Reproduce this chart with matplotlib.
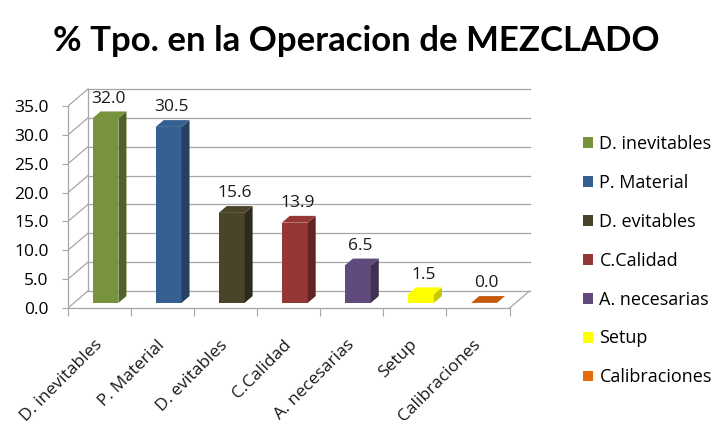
import matplotlib
matplotlib.use('Agg')
import matplotlib.pyplot as plt
from matplotlib.patches import Polygon, Patch

plt.rcParams['font.family'] = ['Open Sans', 'DejaVu Sans']

categories = ['D. inevitables', 'P. Material', 'D. evitables', 'C.Calidad',
              'A. necesarias', 'Setup', 'Calibraciones']
values = [32.0, 30.5, 15.6, 13.9, 6.5, 1.5, 0.0]
front_colors = ['#77933C', '#376092', '#4A452A', '#953735', '#604A7B', '#FFFF00', '#C65A0A']
side_colors = ['#4F6228', '#244062', '#2E2B1A', '#632523', '#403152', '#C8C800', '#8E3F06']
legend_colors = ['#77933C', '#376092', '#4A452A', '#953735', '#604A7B', '#FFFF00', '#E46C0A']
yticks = [0, 5, 10, 15, 20, 25, 30, 35]

# oblique depth of the 3D box, in data units
dx, dy = 0.317, 2.95
f0, f1 = 0.3, 0.7
w = 0.41
grid = '#A6A6A6'

fig = plt.figure(figsize=(7.2, 4.28), dpi=100)
ax = fig.add_axes([0.0944, 0.2804, 0.644, 0.519])
n = len(categories)
ax.set_xlim(0, n + 0.35)
ax.set_ylim(0, 38.5)

# walls and gridlines
for v in yticks:
    ax.plot([0, dx], [v, v + dy], color=grid, lw=0.9, zorder=1)
    ax.plot([dx, n + dx], [v + dy, v + dy], color=grid, lw=0.9, zorder=1)
ax.plot([dx, dx], [dy, 35 + dy], color=grid, lw=0.9, zorder=1)
ax.plot([n, n + dx], [0, dy], color=grid, lw=0.9, zorder=1)

# bars: front face through ax.bar, side and top as polygons
xc = [i + 0.5 + f0 * dx for i in range(n)]
ax.bar(xc, values, width=w, bottom=f0 * dy, color=front_colors, zorder=3)
ddx, ddy = (f1 - f0) * dx, (f1 - f0) * dy
for i, v in enumerate(values):
    x0 = xc[i] - w / 2
    x1 = xc[i] + w / 2
    yb = f0 * dy
    top = [(x0, yb + v), (x1, yb + v), (x1 + ddx, yb + v + ddy), (x0 + ddx, yb + v + ddy)]
    side = [(x1, yb), (x1 + ddx, yb + ddy), (x1 + ddx, yb + v + ddy), (x1, yb + v)]
    ax.add_patch(Polygon(side, closed=True, facecolor=side_colors[i], edgecolor='none', zorder=3))
    ax.add_patch(Polygon(top, closed=True, facecolor=front_colors[i], edgecolor='none', zorder=4))
    ax.text(xc[i] + ddx / 2 - 0.02, v + f1 * dy + 0.8, f'{v:.1f}', ha='center', va='bottom',
            fontsize=12.5, color='#1a1a1a', zorder=5, clip_on=False)

for s in ['top', 'right']:
    ax.spines[s].set_visible(False)
ax.spines['left'].set_bounds(0, 35)
ax.spines['bottom'].set_bounds(0, n)
for s in ['left', 'bottom']:
    ax.spines[s].set_color(grid)
    ax.spines[s].set_linewidth(0.9)

ax.set_yticks(yticks)
ax.set_yticklabels([f'{t:.1f}' for t in yticks], fontsize=12.5)
ax.tick_params(axis='y', length=4, pad=10, color=grid)
ax.set_xticks(range(n + 1))
ax.set_xticklabels([])
ax.tick_params(axis='x', length=6, color=grid)
for i, c in enumerate(categories):
    ax.text(i + 0.5, -6.0, c, rotation=45, rotation_mode='anchor', ha='right', va='center',
            fontsize=12.5, color='#1a1a1a', clip_on=False)

fig.text(0.495, 0.905, '% Tpo. en la Operacion de MEZCLADO', ha='center', va='center',
         fontsize=25, fontweight='bold', family=['Lato', 'DejaVu Sans'])

handles = [Patch(facecolor=c, edgecolor='none') for c in legend_colors]
fig.legend(handles, categories, loc='upper left', bbox_to_anchor=(0.8, 0.702),
           frameon=False, fontsize=13, handlelength=0.55, handleheight=0.55,
           handletextpad=0.35, labelspacing=1.16, borderaxespad=0)

fig.savefig('out.png', dpi=100)
